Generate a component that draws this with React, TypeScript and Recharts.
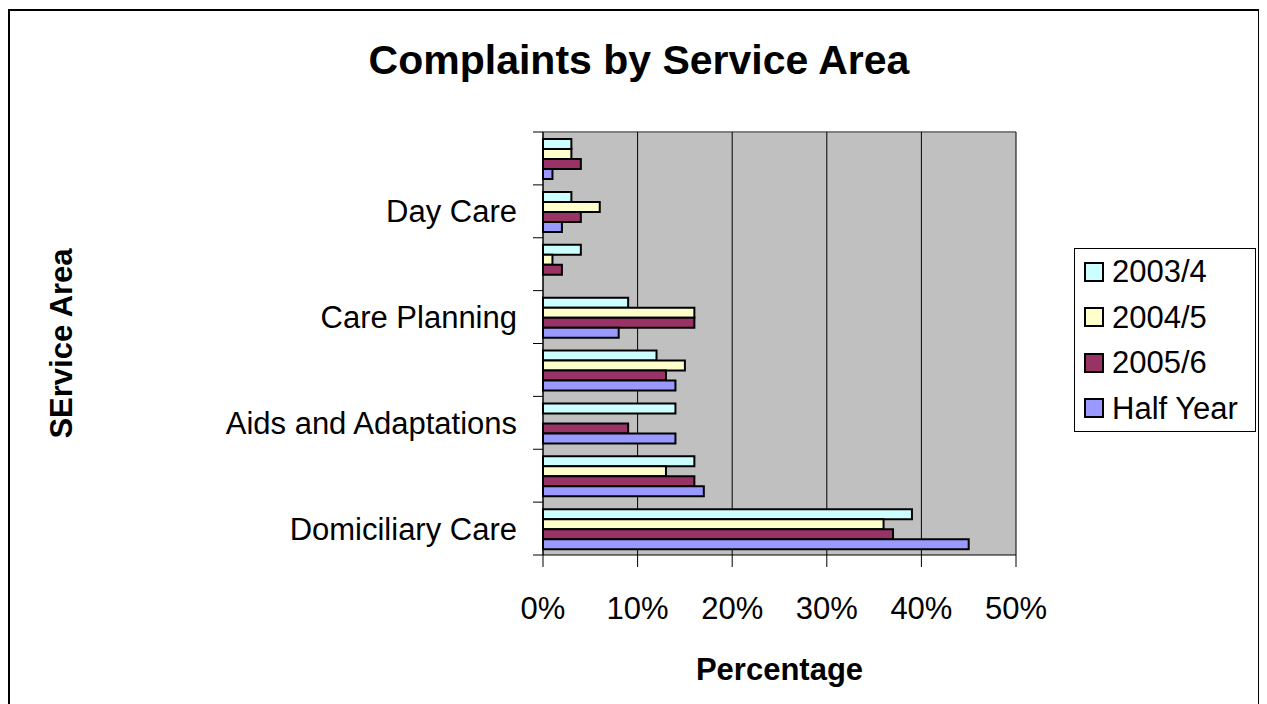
import { BarChart, Bar, XAxis, YAxis, CartesianGrid, Label } from 'recharts';

// bottom to top, as in the source chart (only every other name is printed there)
const categories = [
  'Domiciliary Care',
  'Residential Care',
  'Aids and Adaptations',
  'Assessment',
  'Care Planning',
  'Respite Care',
  'Day Care',
  'Other',
];

const y2003 = [39, 16, 14, 12, 9, 4, 3, 3];
const y2004 = [36, 13, 0, 15, 16, 1, 6, 3];
const y2005 = [37, 16, 9, 13, 16, 2, 4, 4];
const halfYear = [45, 17, 14, 14, 8, 0, 2, 1];

const xTicks = [0, 10, 20, 30, 40, 50];

const series = [
  { key: 'y2003', name: '2003/4', color: '#CCFFFF' },
  { key: 'y2004', name: '2004/5', color: '#FFFFCC' },
  { key: 'y2005', name: '2005/6', color: '#993366' },
  { key: 'halfYear', name: 'Half Year', color: '#9999FF' },
];

const data = categories.map((name, i) => ({
  name,
  y2003: y2003[i],
  y2004: y2004[i],
  y2005: y2005[i],
  halfYear: halfYear[i],
}));

const FONT = 'Arial, "Liberation Sans", sans-serif';
const CHART_W = 1248;
const CHART_H = 690;
const MARGIN = { top: 121, right: 242, bottom: 6, left: 0 };
const X_AXIS_H = 140;
const Y_AXIS_W = 533;
const Y_TICK_SIZE = 10;
const Y_TICK_MARGIN = 16;
const PLOT_H = CHART_H - MARGIN.top - MARGIN.bottom - X_AXIS_H;
const BAND = PLOT_H / categories.length;

// Excel style: tick marks sit between categories, labels on every other one
const CategoryTick = (props: any) => {
  const { x, y, payload } = props;
  const i = props.index ?? payload.index;
  const half = BAND / 2;
  const lx1 = x + Y_TICK_MARGIN;
  const lx2 = lx1 + Y_TICK_SIZE;
  return (
    <g>
      <line x1={lx1} x2={lx2} y1={y + half} y2={y + half} stroke="#000" />
      {i === categories.length - 1 && (
        <line x1={lx1} x2={lx2} y1={y - half} y2={y - half} stroke="#000" />
      )}
      {i % 2 === 0 && (
        <text x={x} y={y} dy="0.36em" textAnchor="end" fontSize={31} fontFamily={FONT} fill="#000">
          {payload.value}
        </text>
      )}
    </g>
  );
};

const YTitle = (props: any) => {
  const vb = props.viewBox;
  const x = vb.x + 62;
  const y = vb.y + vb.height / 2;
  return (
    <text
      x={x}
      y={y}
      transform={`rotate(-90 ${x} ${y})`}
      textAnchor="middle"
      fontSize={31}
      fontWeight="bold"
      fontFamily={FONT}
      fill="#000"
    >
      SErvice Area
    </text>
  );
};

export default function App() {
  return (
    <div
      style={{
        position: 'relative',
        marginTop: 1,
        width: 1252,
        height: 700,
        border: '2px solid #000',
        boxSizing: 'border-box',
        background: '#fff',
        fontFamily: FONT,
      }}
    >
      <style>{'html, body { overflow: hidden; }'}</style>
      <div
        style={{
          position: 'absolute',
          top: 26,
          left: 0,
          width: 1258,
          textAlign: 'center',
          fontSize: 41,
          fontWeight: 'bold',
          color: '#000',
        }}
      >
        Complaints by Service Area
      </div>

      <div style={{ position: 'absolute', left: 0, top: 0 }}>
        <BarChart
          width={CHART_W}
          height={CHART_H}
          data={data}
          layout="vertical"
          margin={MARGIN}
          barCategoryGap={7}
          barGap={0}
        >
          <CartesianGrid
            vertical={false}
            fill="#C0C0C0"
            fillOpacity={1}
            stroke="#808080"
            strokeWidth={2}
            horizontalCoordinatesGenerator={({ offset }: any) => [offset.top]}
          />
          <CartesianGrid horizontal={false} stroke="#000" />
          <XAxis
            type="number"
            domain={[0, 50]}
            ticks={xTicks}
            tickFormatter={(v: number) => `${v}%`}
            height={X_AXIS_H}
            tickSize={12}
            tickMargin={30}
            axisLine={{ stroke: '#000' }}
            tickLine={{ stroke: '#000' }}
            tick={{ fontSize: 31, fill: '#000', fontFamily: FONT }}
          >
            <Label
              value="Percentage"
              position="insideBottom"
              offset={15}
              style={{ fontSize: 31, fontWeight: 'bold', fill: '#000', fontFamily: FONT }}
            />
          </XAxis>
          <YAxis
            type="category"
            dataKey="name"
            reversed
            width={Y_AXIS_W}
            interval={0}
            tickSize={Y_TICK_SIZE}
            tickMargin={Y_TICK_MARGIN}
            tickLine={false}
            axisLine={{ stroke: '#000' }}
            tick={<CategoryTick />}
          >
            <Label content={<YTitle />} />
          </YAxis>
          {series.map((s) => (
            <Bar
              key={s.key}
              dataKey={s.key}
              name={s.name}
              fill={s.color}
              stroke="#000"
              strokeWidth={2}
              isAnimationActive={false}
            />
          ))}
        </BarChart>
      </div>

      <div
        style={{
          position: 'absolute',
          left: 1064,
          top: 237,
          width: 182,
          height: 184,
          border: '1px solid #000',
          boxSizing: 'border-box',
          background: '#fff',
        }}
      >
        {series.map((s) => (
          <div
            key={s.key}
            style={{ height: 45.5, display: 'flex', alignItems: 'center', paddingLeft: 9 }}
          >
            <span
              style={{
                width: 20,
                height: 20,
                background: s.color,
                border: '2px solid #000',
                boxSizing: 'border-box',
                marginRight: 8,
                flexShrink: 0,
              }}
            />
            <span style={{ fontSize: 31, color: '#000', lineHeight: 1 }}>{s.name}</span>
          </div>
        ))}
      </div>
    </div>
  );
}
